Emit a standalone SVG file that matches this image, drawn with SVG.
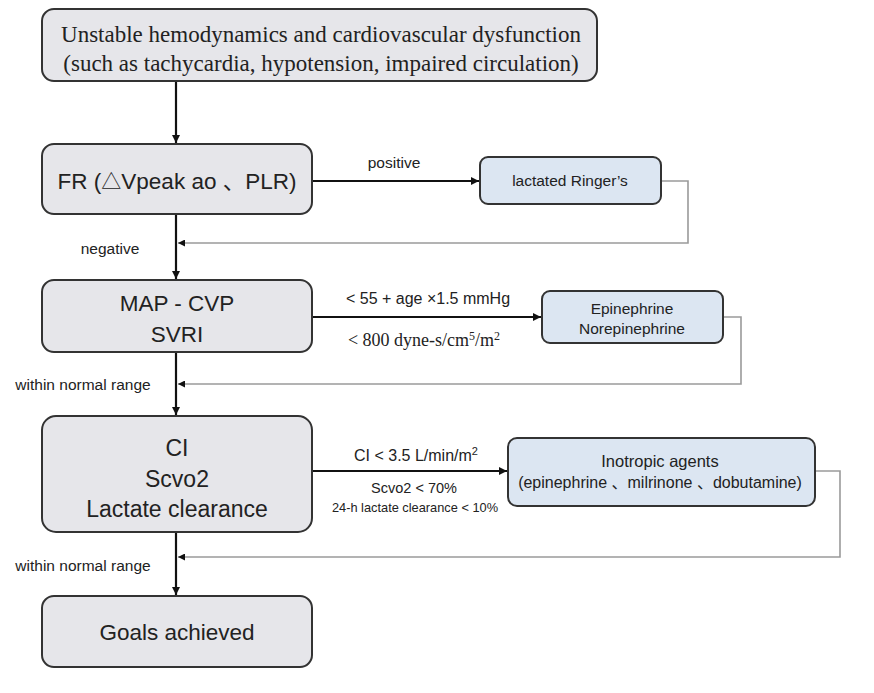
<svg xmlns="http://www.w3.org/2000/svg" width="874" height="693" viewBox="0 0 874 693">
<defs>
<marker id="ah" viewBox="0 0 10 10" refX="10" refY="5" markerWidth="8" markerHeight="8" markerUnits="userSpaceOnUse" orient="auto"><path d="M0,0 L10,5 L0,10 z" fill="#111"/></marker>
<marker id="ahs" viewBox="0 0 10 10" refX="10" refY="5" markerWidth="7" markerHeight="7" markerUnits="userSpaceOnUse" orient="auto"><path d="M0,0 L10,5 L0,10 z" fill="#111"/></marker>
<style>
.g{fill:#e6e6ea;stroke:#333;stroke-width:2}
.b{fill:#dce6f2;stroke:#333;stroke-width:2}
.main{stroke:#111;stroke-width:2.2;fill:none}
.fb{stroke:#9a9a9a;stroke-width:1.6;fill:none}
.t{font-family:"Liberation Sans","Noto Sans CJK SC",sans-serif;fill:#222;text-anchor:middle}
.s{font-family:"Liberation Serif","Noto Sans CJK SC",serif;fill:#222;text-anchor:middle}
</style>
</defs>
<rect width="874" height="693" fill="#fff"/>
<g id="connectors">
<line class="main" x1="176" y1="82" x2="176" y2="143" marker-end="url(#ah)"/>
<line class="main" x1="176" y1="214" x2="176" y2="279" marker-end="url(#ah)"/>
<line class="main" x1="176" y1="352" x2="176" y2="415" marker-end="url(#ah)"/>
<line class="main" x1="176" y1="532" x2="176" y2="595" marker-end="url(#ah)"/>
<line class="main" x1="312" y1="181" x2="479" y2="181" marker-end="url(#ah)"/>
<line class="main" x1="312" y1="317" x2="541" y2="317" marker-end="url(#ah)"/>
<line class="main" x1="312" y1="471" x2="507" y2="471" marker-end="url(#ah)"/>
<polyline class="fb" points="661,181 688,181 688,243 178,243" marker-end="url(#ahs)"/>
<polyline class="fb" points="723,317 741,317 741,384 178,384" marker-end="url(#ahs)"/>
<polyline class="fb" points="815,471 840,471 840,557 178,557" marker-end="url(#ahs)"/>
<text class="t" x="394" y="168" font-size="15.5">positive</text>
<text class="t" x="110" y="254" font-size="15.5">negative</text>
<text class="t" x="428" y="304" font-size="16">&lt; 55 + age ×1.5 mmHg</text>
<text class="s" x="424" y="346" font-size="18">&lt; 800 dyne-s/cm<tspan font-size="12" dy="-6">5</tspan><tspan dy="6">/m</tspan><tspan font-size="12" dy="-6">2</tspan></text>
<text class="t" x="83" y="390" font-size="15.5">within normal range</text>
<text class="t" x="416" y="461" font-size="16">CI &lt; 3.5 L/min/m<tspan font-size="11" dy="-6">2</tspan></text>
<text class="t" x="414" y="493" font-size="14.5">Scvo2 &lt; 70%</text>
<text class="t" x="415" y="512" font-size="12.8">24-h lactate clearance &lt; 10%</text>
<text class="t" x="83" y="571" font-size="15.5">within normal range</text>
</g>
<g id="n1">
<rect class="g" x="42" y="9" width="555" height="72" rx="12"/>
<text class="s" x="321" y="42" font-size="23">Unstable hemodynamics and cardiovascular dysfunction</text>
<text class="s" x="321" y="71" font-size="23">(such as tachycardia, hypotension, impaired circulation)</text>
</g>
<g id="n2">
<rect class="g" x="42" y="144" width="270" height="70" rx="12"/>
<text class="t" x="177" y="189" font-size="22.5">FR (<tspan font-size="20">△</tspan>Vpeak ao 、PLR)</text>
</g>
<g id="n3">
<rect class="b" x="480" y="157" width="181" height="47" rx="8"/>
<text class="t" x="570" y="186" font-size="15.5">lactated Ringer’s</text>
</g>
<g id="n4">
<rect class="g" x="42" y="280" width="270" height="72" rx="12"/>
<text class="t" x="177" y="311" font-size="22.5">MAP - CVP</text>
<text class="t" x="177" y="342" font-size="22.5">SVRI</text>
</g>
<g id="n5">
<rect class="b" x="542" y="291" width="181" height="52" rx="8"/>
<text class="t" x="632" y="314" font-size="15.5">Epinephrine</text>
<text class="t" x="632" y="334" font-size="15.5">Norepinephrine</text>
</g>
<g id="n6">
<rect class="g" x="42" y="416" width="270" height="116" rx="14"/>
<text class="t" x="177" y="456" font-size="23">CI</text>
<text class="t" x="177" y="487" font-size="23">Scvo2</text>
<text class="t" x="177" y="517" font-size="23">Lactate clearance</text>
</g>
<g id="n7">
<rect class="b" x="508" y="438" width="307" height="68" rx="9"/>
<text class="t" x="660" y="467" font-size="16.5">Inotropic agents</text>
<text class="t" x="660" y="488" font-size="16">(epinephrine 、milrinone 、dobutamine)</text>
</g>
<g id="n8">
<rect class="g" x="42" y="596" width="270" height="71" rx="12"/>
<text class="t" x="177" y="640" font-size="22.5">Goals achieved</text>
</g>
</svg>
